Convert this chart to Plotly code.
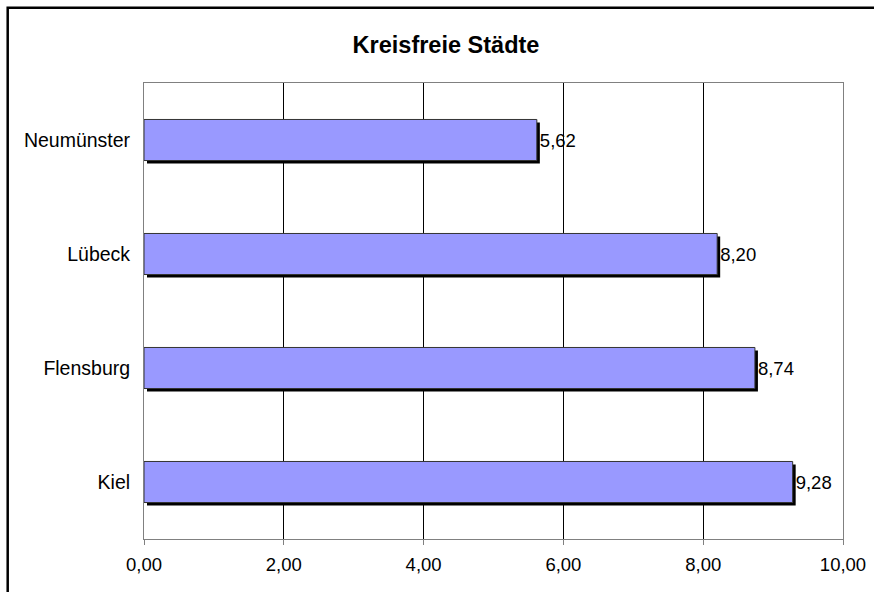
import plotly.graph_objects as go

# ---- data ----
categories = ["Kiel", "Flensburg", "Lübeck", "Neumünster"]
values = [9.28, 8.74, 8.20, 5.62]
x_ticks = [0, 2, 4, 6, 8, 10]
title_text = "Kreisfreie Städte"

# ---- geometry ----
W, H = 874, 592
ML, MR, MT, MB = 144, 28, 83, 50
PW = W - ML - MR
PH = H - MT - MB
SH = 3  # shadow offset in px

def px_x(p):
    return (p - ML) / PW

def px_y(p):
    return (H - MB - p) / PH

FONT = "Liberation Sans, Arial, sans-serif"

fig = go.Figure()

# shadow bars (bottom subplot, shifted right/down)
fig.add_trace(go.Bar(
    x=values, y=categories, orientation="h",
    marker=dict(color="black", line=dict(width=0)),
    xaxis="x", yaxis="y", hoverinfo="skip", showlegend=False,
))

# main bars
fig.add_trace(go.Bar(
    x=values, y=categories, orientation="h",
    marker=dict(color="#9999FF", line=dict(color="#333333", width=1)),
    texttemplate="%{x:.2f}", textposition="outside",
    textfont=dict(family=FONT, size=18.5, color="black"),
    cliponaxis=False,
    xaxis="x2", yaxis="y2", showlegend=False,
))

fig.update_layout(
    width=W, height=H, autosize=False,
    margin=dict(l=ML, r=MR, t=MT, b=MB, autoexpand=False),
    paper_bgcolor="white",
    plot_bgcolor="rgba(0,0,0,0)",
    separators=",.",
    bargap=0.64,
    showlegend=False,
    font=dict(family=FONT, size=18, color="black"),
    title=dict(
        text="<b>" + title_text + "</b>",
        font=dict(family=FONT, size=23.5, color="black"),
        xref="container", yref="container",
        x=446 / W, y=1 - 45 / H, xanchor="center", yanchor="middle",
    ),
    xaxis=dict(
        domain=[SH / PW, 1], range=[0, 10], visible=False, fixedrange=True,
        automargin=False,
    ),
    yaxis=dict(
        domain=[0, 1 - SH / PH], range=[-0.5, 3.5], type="category",
        categoryorder="array", categoryarray=categories, visible=False,
        automargin=False,
    ),
    xaxis2=dict(
        domain=[0, 1 - SH / PW], range=[0, 10], anchor="y2",
        tickvals=x_ticks, tickformat=".2f", automargin=False,
        showgrid=True, gridcolor="black", gridwidth=1,
        zeroline=False,
        showline=True, mirror=True, linecolor="#808080", linewidth=1,
        ticks="outside", ticklen=5, tickcolor="#808080", tickwidth=1,
        ticklabelstandoff=4,
        tickfont=dict(family=FONT, size=18.5, color="black"),
    ),
    yaxis2=dict(
        domain=[SH / PH, 1], range=[-0.5, 3.5], anchor="x2", type="category",
        categoryorder="array", categoryarray=categories, automargin=False,
        showgrid=False, zeroline=False,
        showline=True, mirror=True, linecolor="#808080", linewidth=1,
        ticks="", ticklabelstandoff=9,
        tickfont=dict(family=FONT, size=19.5, color="black"),
    ),
    shapes=[dict(
        type="rect", xref="paper", yref="paper",
        x0=px_x(7.7), x1=px_x(W + 30), y0=px_y(H + 30), y1=px_y(7.7),
        line=dict(color="black", width=2.5), fillcolor="rgba(0,0,0,0)",
        layer="above",
    )],
)

fig.write_html(
    "out.html",
    config={"displayModeBar": False, "responsive": False},
    post_script="document.body.style.margin='0';document.body.style.overflow='hidden';",
)
